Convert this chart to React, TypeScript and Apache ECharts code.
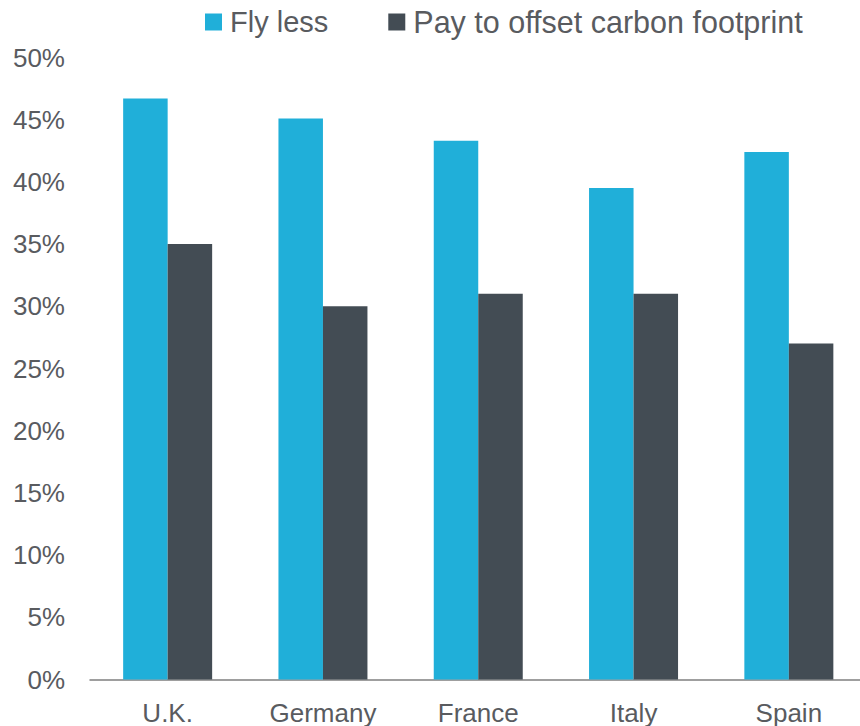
import React, { useEffect, useRef } from "react";
import * as echarts from "echarts";

const categories = ["U.K.", "Germany", "France", "Italy", "Spain"];
const flyLess = [46.7, 45.1, 43.3, 39.5, 42.4];
const payOffset = [35, 30, 31, 31, 27];
const seriesNames = ["Fly less", "Pay to offset carbon footprint"];

const CYAN = "#20AFD9";
const DARK = "#434C54";
const TEXT = "#595b5f";
const FONT = "'Liberation Sans', Arial, sans-serif";

export default function App() {
  const ref = useRef<HTMLDivElement>(null);
  useEffect(() => {
    if (!ref.current) return;
    const chart = echarts.init(ref.current, undefined, { renderer: "svg" });
    chart.setOption({
      animation: false,
      backgroundColor: "#ffffff",
      textStyle: { fontFamily: FONT },
      legend: {
        left: 205,
        top: 6.5,
        padding: 0,
        itemWidth: 17,
        itemHeight: 17,
        itemGap: 60,
        icon: "rect",
        data: [
          { name: seriesNames[0], textStyle: { fontSize: 29 } },
          { name: seriesNames[1], textStyle: { fontSize: 30.5 } },
        ],
        textStyle: {
          fontSize: 29,
          lineHeight: 30,
          color: TEXT,
          fontFamily: FONT,
          padding: [0, 0, 0, 3],
        },
      },
      grid: {
        left: 90,
        right: 3.5,
        top: 57.5,
        bottom: 46.5,
        containLabel: false,
        outerBoundsMode: "none",
      },
      xAxis: {
        type: "category",
        data: categories,
        axisLine: { lineStyle: { color: "#7f7f7f", width: 1.5 } },
        axisTick: { show: false },
        axisLabel: {
          fontSize: 26,
          lineHeight: 26,
          color: TEXT,
          margin: 20,
          fontFamily: FONT,
        },
      },
      yAxis: {
        type: "value",
        min: 0,
        max: 50,
        interval: 5,
        axisLine: { show: false },
        axisTick: { show: false },
        splitLine: { show: false },
        axisLabel: {
          formatter: "{value}%",
          fontSize: 26,
          color: TEXT,
          margin: 25,
          fontFamily: FONT,
        },
      },
      series: [
        {
          name: seriesNames[0],
          type: "bar",
          data: flyLess,
          barWidth: 44.5,
          barGap: "0%",
          itemStyle: { color: CYAN },
        },
        {
          name: seriesNames[1],
          type: "bar",
          data: payOffset,
          barWidth: 44.5,
          barGap: "0%",
          itemStyle: { color: DARK },
        },
      ],
    });
    return () => chart.dispose();
  }, []);
  return (
    <div style={{ position: "fixed", left: 0, top: 0, width: 860, height: 726, overflow: "hidden" }}>
      <div ref={ref} style={{ width: 870, height: 726 }} />
    </div>
  );
}
